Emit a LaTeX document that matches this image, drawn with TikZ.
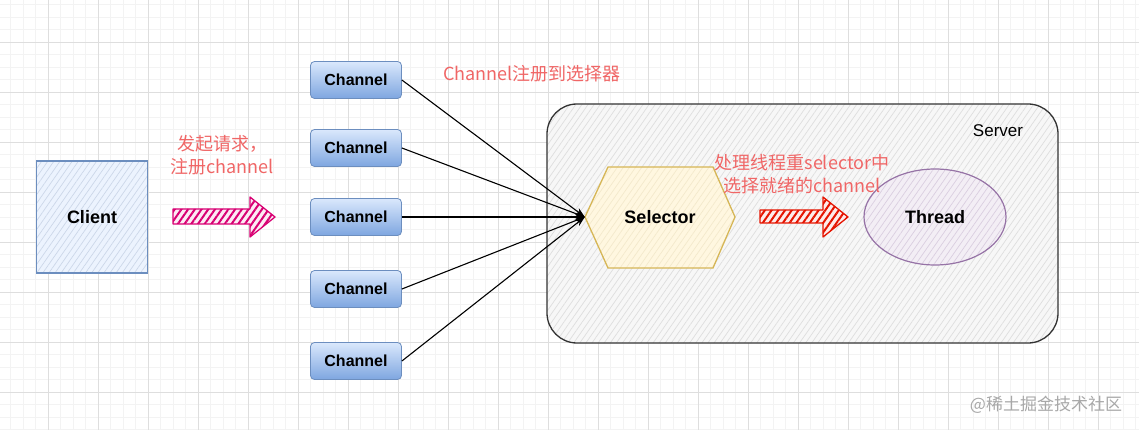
\documentclass[tikz,border=0pt]{standalone}
\usepackage{fontspec}
\setmainfont{Liberation Sans}
\newfontfamily\cjk{Noto Sans CJK SC}
\usepackage{xcolor}
\usetikzlibrary{calc,positioning,arrows.meta,patterns.meta,shapes.geometric}
\definecolor{gridminor}{HTML}{F3F3F3}
\definecolor{gridmajor}{HTML}{DEDEDE}
\definecolor{clientfill}{HTML}{DAE8FC}
\definecolor{clientline}{HTML}{6C8EBF}
\definecolor{chantop}{HTML}{DAE8FC}
\definecolor{chanbottom}{HTML}{7EA6E0}
\definecolor{serverfill}{HTML}{F7F7F7}
\definecolor{serverline}{HTML}{333333}
\definecolor{selfill}{HTML}{FFF2CC}
\definecolor{selline}{HTML}{D6B656}
\definecolor{threadfill}{HTML}{E1D5E7}
\definecolor{threadline}{HTML}{9673A6}
\definecolor{notered}{HTML}{F06666}
\definecolor{pinkarrow}{HTML}{D80073}
\definecolor{redarrow}{HTML}{E51400}
\definecolor{marktext}{HTML}{A8A8A8}

\tikzset{
  hatch/.style 2 args={preaction={fill=#1},
    pattern={Lines[angle=55,distance=5pt,line width=0.7pt]}, pattern color=#2},
  clientbox/.style={draw=clientline, line width=1.2pt, hatch={clientfill!50}{clientline!35},
    minimum width=111, minimum height=112, font=\bfseries\fontsize{18}{18}\selectfont},
  chanbox/.style={draw=clientline, line width=0.8pt, rounded corners=4pt,
    top color=chantop, bottom color=chanbottom, minimum width=91, minimum height=37,
    font=\bfseries\fontsize{16}{16}\selectfont},
  serverbox/.style={draw=serverline, line width=1.3pt, rounded corners=30pt,
    hatch={serverfill}{gridmajor}, minimum width=511, minimum height=239},
  threadbox/.style={ellipse, draw=threadline, line width=1.2pt, hatch={threadfill!40}{threadline!35},
    minimum width=142, minimum height=96, font=\bfseries\fontsize{18}{18}\selectfont},
  hexbox/.style={draw=selline, line width=1.3pt, hatch={selfill!60}{selline!30}},
  boldtext/.style={font=\bfseries\fontsize{18}{18}\selectfont, minimum width=150, minimum height=101},
  plaintext/.style={font=\fontsize{17}{17}\selectfont},
  note/.style={text=notered, font=\cjk\fontsize{18}{23}\selectfont, align=center},
  link/.style={line width=1.1pt, -{Stealth[length=10pt,width=7pt]}},
  blockarrow/.style={draw=#1, line width=1.3pt, line join=round,
    preaction={fill=#1!8},
    pattern={Lines[angle=55,distance=5.5pt,line width=2pt]}, pattern color=#1}
}

\begin{document}
\begin{tikzpicture}[x=1pt, y=-1pt]

% === Wymiary ===
\useasboundingbox (0,0) rectangle (1139,430);
\fill[white] (0,0) rectangle (1139,430);

% === Siatka ===
\foreach \x in {-2,10.5,...,1140} {
  \draw[gridminor, line width=0.6pt] (\x,0) -- (\x,430);
}
\foreach \y in {-8,4.5,...,431} {
  \draw[gridminor, line width=0.6pt] (0,\y) -- (1139,\y);
}
\foreach \x in {48,98,...,1139} {
  \draw[gridmajor, line width=0.7pt] (\x,0) -- (\x,430);
}
\foreach \y in {42,92,...,430} {
  \draw[gridmajor, line width=0.7pt] (0,\y) -- (1139,\y);
}

% === Server ===
\node[serverbox] (server) at (802.5,223.5) {};
\node[plaintext] (servername) at (998,131) {Server};

% === Client ===
\node[clientbox] (client) at (92,217) {Client};

% === Channels ===
\foreach \i/\y in {1/80,2/148,3/217,4/289,5/361} {
  \node[chanbox] (ch\i) at (356,\y) {Channel};
}

% === Selector ===
\coordinate (selc) at (660,217);
\draw[hexbox] ($(selc)+(-75,0)$) -- ($(selc)+(-52,-50)$) -- ($(selc)+(53,-50)$)
  -- ($(selc)+(75,0)$) -- ($(selc)+(53,51)$) -- ($(selc)+(-52,51)$) -- cycle;
\node[boldtext] (sel) at (selc) {Selector};

% === Thread ===
\node[threadbox] (thread) at (935,217) {Thread};

% === Channel -> Selector ===
\foreach \i in {1,...,5} {
  \draw[link] (ch\i.east) -- (sel.west);
}

% === Strzalki blokowe ===
\draw[blockarrow=pinkarrow] (173,209) -- (250,209) -- (250,197) -- (275,217)
  -- (250,237) -- (250,224) -- (173,224) -- cycle;
\draw[blockarrow=redarrow] (760,210) -- (823,210) -- (823,197) -- (848,217)
  -- (823,237) -- (823,223) -- (760,223) -- cycle;

% === Opisy ===
\node[note] (clientnote) at (222,155) {发起请求，\\注册channel};
\node[note] (channote) at (532,74) {Channel注册到选择器};
\node[note] (selnote) at (802,174) {处理线程重selector中\\选择就绪的channel};

% === Znak wodny ===
\node[text=marktext, font=\cjk\fontsize{17}{17}\selectfont] (mark) at (1046,405) {@稀土掘金技术社区};

\end{tikzpicture}
\end{document}
